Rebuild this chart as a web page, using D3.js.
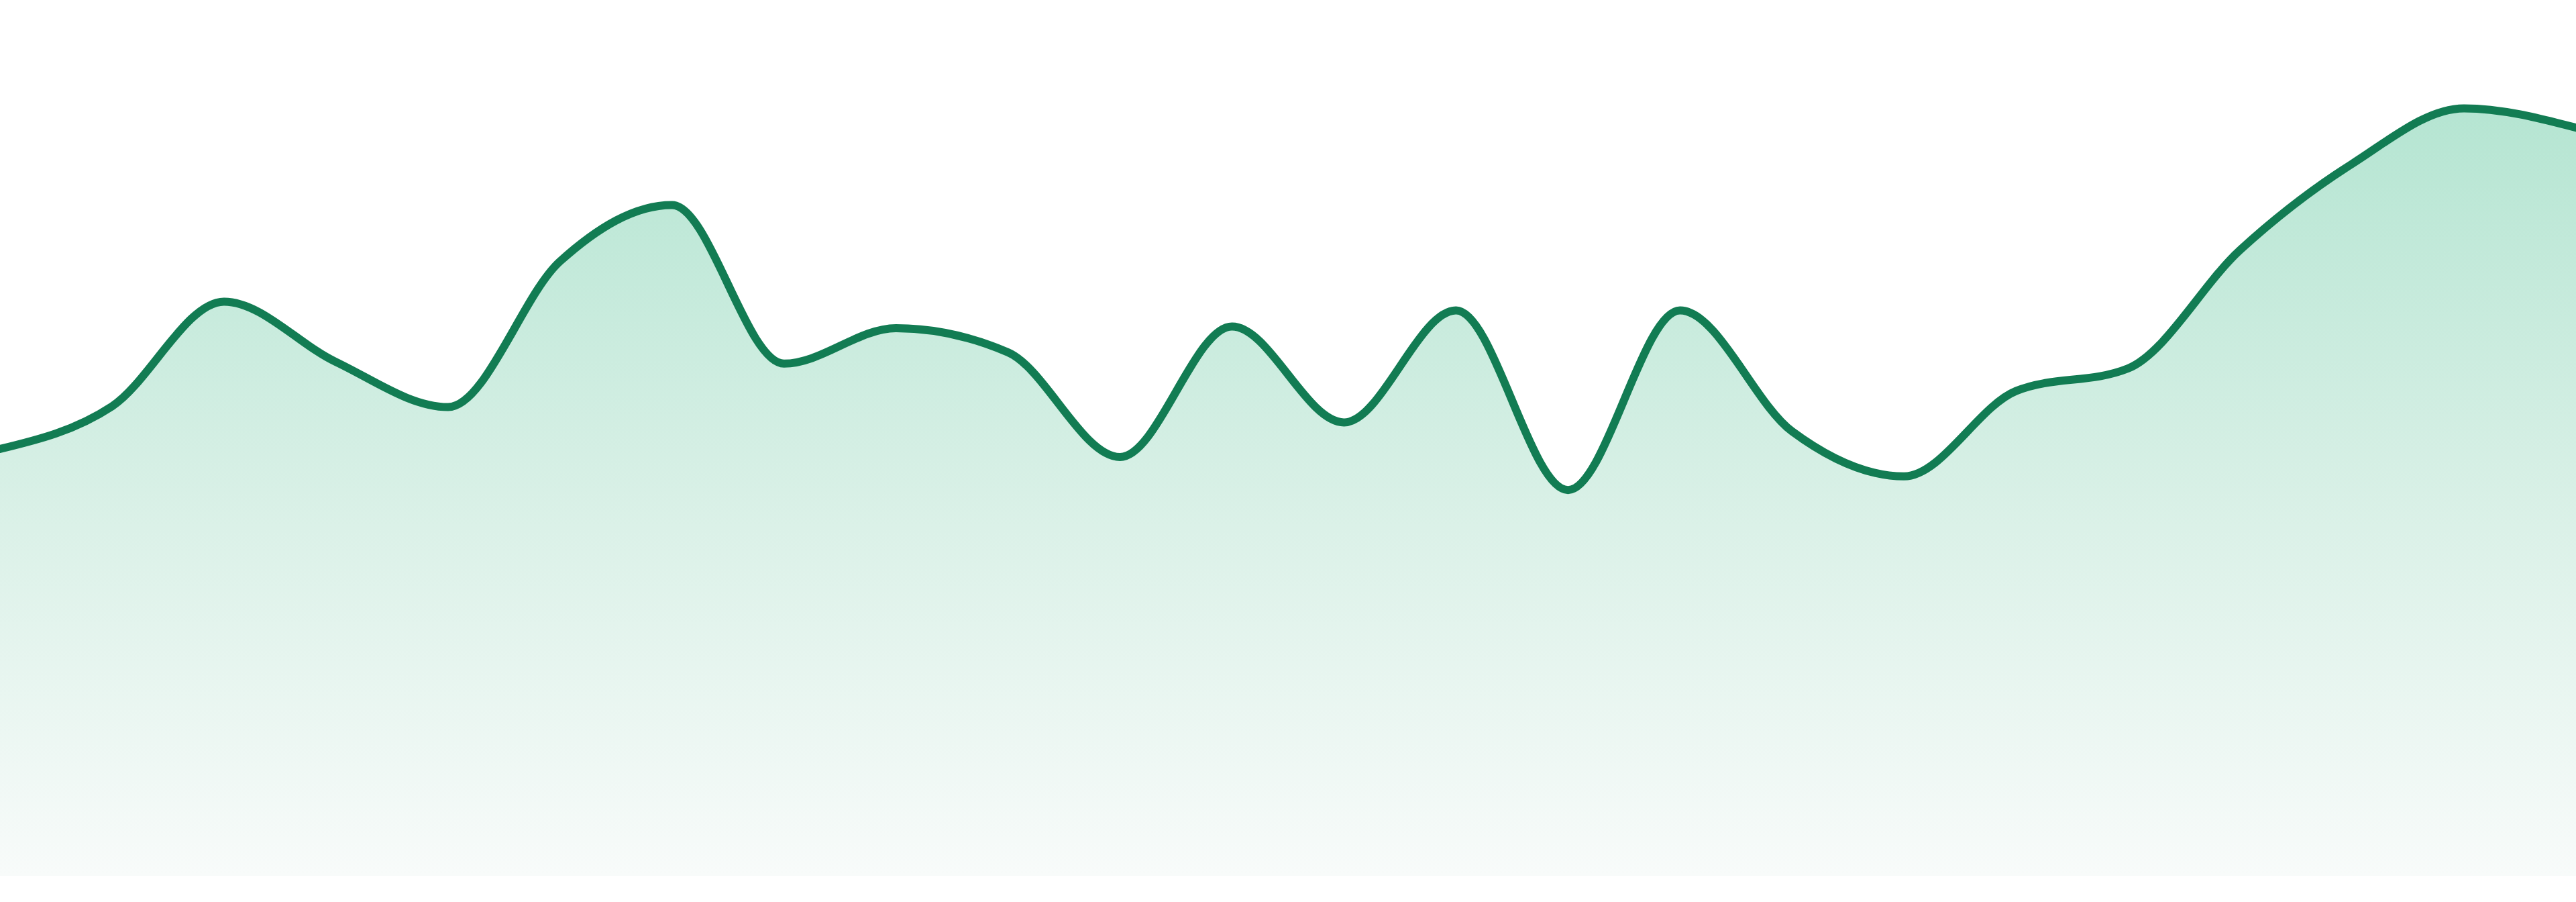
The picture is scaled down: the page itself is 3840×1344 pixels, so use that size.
<!DOCTYPE html>
<html>
<head>
<meta charset="utf-8">
<script src="https://cdn.jsdelivr.net/npm/d3@7"></script>
<style>
  html, body { margin: 0; padding: 0; background: #ffffff; }
  svg { display: block; }
</style>
</head>
<body>
<svg id="chart" width="3840" height="1344"></svg>
<script>
const categories = ["1","2","3","4","5","6","7","8","9","10","11","12","13","14","15","16","17","18","19","20","21","22","23","24"];
const values = [53.0, 58.3, 71.3, 63.8, 58.2, 76.3, 83.3, 63.6, 68.0, 65.0, 52.0, 68.2, 56.3, 70.2, 47.9, 70.2, 55.2, 49.6, 60.2, 63.0, 77.7, 88.4, 95.3, 92.9];
const yDomain = [0, 100];

const W = 3840, H = 1344;
const svg = d3.select("#chart");

const x = d3.scalePoint().domain(categories).range([0, W]);
const y = d3.scaleLinear().domain(yDomain).range([1305, 105]);

const data = categories.map((c, i) => ({ c, v: values[i] }));

const defs = svg.append("defs");
const grad = defs.append("linearGradient")
  .attr("id", "fillGrad")
  .attr("gradientUnits", "userSpaceOnUse")
  .attr("x1", 0).attr("x2", 0)
  .attr("y1", y(d3.max(values))).attr("y2", y(0));
grad.append("stop").attr("offset", "0").attr("stop-color", "#b5e5d2");
grad.append("stop").attr("offset", "0.5").attr("stop-color", "#d8f0e6");
grad.append("stop").attr("offset", "1").attr("stop-color", "#f8fbfa");

const area = d3.area()
  .x(d => x(d.c))
  .y0(y(0))
  .y1(d => y(d.v))
  .curve(d3.curveMonotoneX);

const line = d3.line()
  .x(d => x(d.c))
  .y(d => y(d.v))
  .curve(d3.curveMonotoneX);

svg.append("path")
  .datum(data)
  .attr("d", area)
  .attr("fill", "url(#fillGrad)");

svg.append("path")
  .datum(data)
  .attr("d", line)
  .attr("fill", "none")
  .attr("stroke", "#127c53")
  .attr("stroke-width", 12)
  .attr("stroke-linejoin", "round")
  .attr("stroke-linecap", "round");
</script>
</body>
</html>
